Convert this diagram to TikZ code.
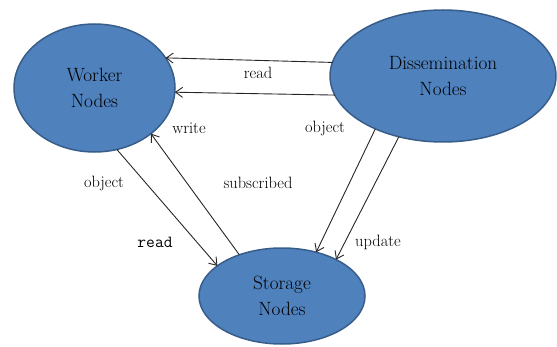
\documentclass[tikz,border=0pt]{standalone}
\usepackage{fontspec}
\usetikzlibrary{arrows.meta,shapes.geometric}
\definecolor{NodeBlue}{RGB}{79,129,189}
\definecolor{NodeEdge}{RGB}{56,93,138}

\begin{document}
\begin{tikzpicture}[x=1pt, y=1pt,
		role/.style={ellipse, fill=NodeBlue, draw=NodeEdge, line width=1.5pt,
			inner sep=0pt, outer sep=0pt, align=center,
			font=\fontsize{19.2}{26}\selectfont},
		flow/.style={-{Straight Barb[length=7pt,width=10pt]}, line width=0.9pt, black!85},
		lbl/.style={font=\fontsize{16.4}{20}\selectfont, inner sep=0pt}]
	\useasboundingbox (0,0) rectangle (557,346);

	% the three groups of nodes
	\node[role, minimum width=161pt, minimum height=128pt] (worker) at (94.5,258) {Worker\\Nodes};
	\node[role, minimum width=226pt, minimum height=132pt] (diss) at (443,270) {Dissemination\\Nodes};
	\node[role, minimum width=166pt, minimum height=96pt] (storage) at (282,50) {Storage\\Nodes};

	% messages between them
	\draw[flow] (diss.173) -- (worker.23);
	\draw[flow] (diss.190) -- (worker.-3);
	\draw[flow] (worker.-70) -- (storage.155);
	\draw[flow] (storage.136) -- (worker.-39);
	\draw[flow] (diss.218) -- (storage.52);
	\draw[flow] (diss.234) -- (storage.34);

	% labels
	\node[lbl] (readtop) at (258,273) {read};
	\node[lbl] (objright) at (325,218) {object};
	\node[lbl] (write) at (189,218) {write};
	\node[lbl] (objleft) at (104,163) {object};
	\node[lbl] (subscr) at (258,163) {subscribed};
	\node[lbl, font=\ttfamily\fontsize{17}{20}\selectfont] (readlow) at (155,104) {read};
	\node[lbl] (update) at (378,104) {update};
\end{tikzpicture}
\end{document}
